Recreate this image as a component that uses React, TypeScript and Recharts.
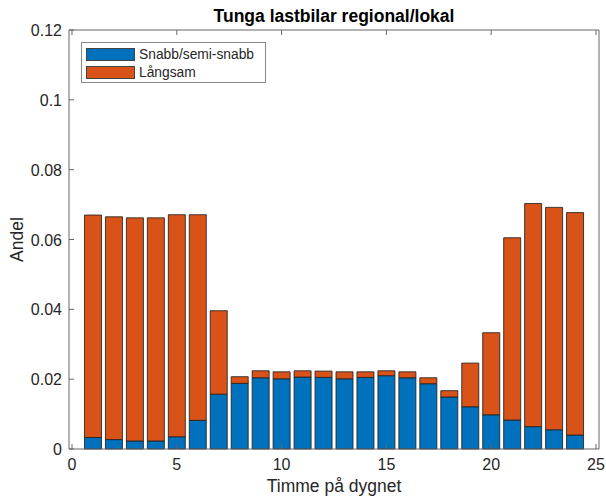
import { BarChart, Bar, XAxis, YAxis } from 'recharts'

// timme 1..24
const hours = [1, 2, 3, 4, 5, 6, 7, 8, 9, 10, 11, 12, 13, 14, 15, 16, 17, 18, 19, 20, 21, 22, 23, 24]
const snabb = [
  0.0033, 0.0027, 0.0023, 0.0023, 0.0035, 0.0082, 0.0157, 0.0188, 0.0204, 0.0201, 0.0206, 0.0205,
  0.0201, 0.0205, 0.0210, 0.0204, 0.0187, 0.0149, 0.0121, 0.0098, 0.0083, 0.0064, 0.0055, 0.0040,
]
const totals = [
  0.0670, 0.0665, 0.0662, 0.0662, 0.0671, 0.0671, 0.0396, 0.0207, 0.0224, 0.0221, 0.0224, 0.0223,
  0.0221, 0.0221, 0.0224, 0.0221, 0.0204, 0.0167, 0.0246, 0.0333, 0.0605, 0.0703, 0.0692, 0.0677,
]
const langsam = totals.map((t, i) => t - snabb[i])

const xTicks = [0, 5, 10, 15, 20, 25]
const yTicks = [0, 0.02, 0.04, 0.06, 0.08, 0.1, 0.12]

const data = hours.map((h, i) => ({ hour: h, snabb: snabb[i], langsam: langsam[i] }))

const BLUE = '#0072BD'
const ORANGE = '#D95319'
const AXIS = '#666'
const TEXT = '#262626'
const FONT = 'Arial, "Liberation Sans", sans-serif'

const fmtY = (v: number) => String(Number(v.toFixed(2)))

const BottomTick = ({ x, y, payload }: any) => (
  <g>
    <line x1={x} y1={y} x2={x} y2={y - 5} stroke={AXIS} />
    <text x={x} y={y + 21} textAnchor="middle" fill={TEXT} fontSize={16} fontFamily={FONT}>
      {payload.value}
    </text>
  </g>
)

const TopTick = ({ x, y }: any) => <line x1={x} y1={y} x2={x} y2={y + 5} stroke={AXIS} />

const LeftTick = ({ x, y, payload }: any) => (
  <g>
    <line x1={x} y1={y} x2={x + 5} y2={y} stroke={AXIS} />
    <text x={x - 7} y={y + 6} textAnchor="end" fill={TEXT} fontSize={16} fontFamily={FONT}>
      {fmtY(payload.value)}
    </text>
  </g>
)

const RightTick = ({ x, y }: any) => <line x1={x} y1={y} x2={x - 5} y2={y} stroke={AXIS} />

const legendItems = [
  { label: 'Snabb/semi-snabb', color: BLUE },
  { label: 'Långsam', color: ORANGE },
]

export default function App() {
  return (
    <div style={{ position: 'absolute', left: 0, top: 0, width: 606, height: 496, background: '#fff' }}>
      <BarChart width={606} height={496} data={data} margin={{ top: 29, right: 6, bottom: 0, left: 0 }}>
        <XAxis
          xAxisId="bottom"
          dataKey="hour"
          type="number"
          domain={[-0.143, 25.143]}
          ticks={xTicks}
          height={47}
          tickSize={0}
          tickMargin={0}
          tick={<BottomTick />}
          stroke={AXIS}
          allowDataOverflow
        />
        <XAxis
          xAxisId="top"
          orientation="top"
          dataKey="hour"
          type="number"
          domain={[-0.143, 25.143]}
          ticks={xTicks}
          height={1}
          tickSize={0}
          tickMargin={0}
          tick={<TopTick />}
          stroke={AXIS}
          allowDataOverflow
        />
        <YAxis
          yAxisId="left"
          domain={[0, 0.12]}
          ticks={yTicks}
          width={69}
          tickSize={0}
          tickMargin={0}
          tick={<LeftTick />}
          stroke={AXIS}
          label={{
            value: 'Andel',
            angle: -90,
            position: 'insideLeft',
            offset: 17,
            style: { fill: TEXT, fontSize: 17.5, fontFamily: FONT, textAnchor: 'middle' },
          }}
        />
        <YAxis
          yAxisId="right"
          orientation="right"
          domain={[0, 0.12]}
          ticks={yTicks}
          width={1}
          tickSize={0}
          tickMargin={0}
          tick={<RightTick />}
          stroke={AXIS}
        />
        <Bar
          xAxisId="bottom"
          yAxisId="left"
          dataKey="snabb"
          stackId="a"
          fill={BLUE}
          stroke="#222"
          strokeOpacity={0.85}
          barSize={17}
          isAnimationActive={false}
        />
        <Bar
          xAxisId="bottom"
          yAxisId="left"
          dataKey="langsam"
          stackId="a"
          fill={ORANGE}
          stroke="#222"
          strokeOpacity={0.85}
          barSize={17}
          isAnimationActive={false}
        />
      </BarChart>
      {/* legend, MATLAB style box inside the axes */}
      <div
        style={{
          position: 'absolute',
          left: 81,
          top: 42,
          width: 185,
          height: 41,
          border: '1px solid #888',
          background: '#fff',
          boxSizing: 'border-box',
          padding: '5px 0 0 4px',
          fontFamily: FONT,
          fontSize: 13.8,
          color: TEXT,
        }}
      >
        {legendItems.map(item => (
          <div key={item.label} style={{ display: 'flex', alignItems: 'center', height: 13, marginBottom: 5 }}>
            <span
              style={{
                width: 49,
                height: 13,
                background: item.color,
                border: '1px solid #444',
                boxSizing: 'border-box',
                marginRight: 4,
                flexShrink: 0,
              }}
            />
            <span style={{ whiteSpace: 'nowrap' }}>{item.label}</span>
          </div>
        ))}
      </div>
      <div
        style={{
          position: 'absolute',
          left: 69,
          width: 530,
          top: 6,
          textAlign: 'center',
          fontFamily: FONT,
          fontWeight: 'bold',
          fontSize: 17.5,
          lineHeight: '20px',
          color: '#000',
        }}
      >
        Tunga lastbilar regional/lokal
      </div>
      <div
        style={{
          position: 'absolute',
          left: 69,
          width: 530,
          top: 476,
          textAlign: 'center',
          fontFamily: FONT,
          fontSize: 17.5,
          lineHeight: '20px',
          color: TEXT,
        }}
      >
        Timme på dygnet
      </div>
    </div>
  )
}
